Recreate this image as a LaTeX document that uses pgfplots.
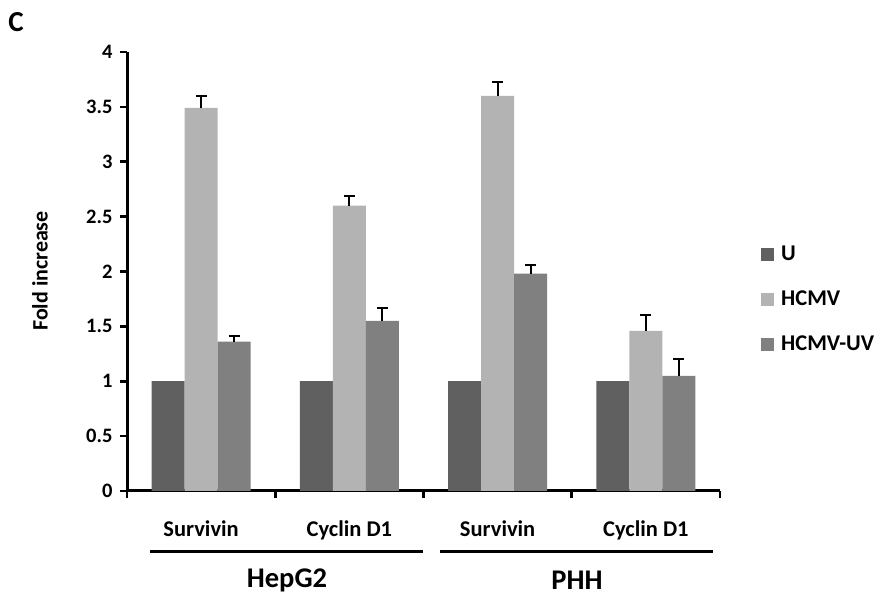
\documentclass[border=0pt]{standalone}
\usepackage{pgfplots}
\pgfplotsset{compat=1.18}
\usepackage{fontspec}
\setmainfont{Carlito}
\definecolor{cU}{HTML}{606060}
\definecolor{cH}{HTML}{B3B3B3}
\definecolor{cUV}{HTML}{808080}
\newcommand{\fs}[1]{\fontsize{#1}{#1}\selectfont}
\begin{document}
\begin{tikzpicture}[x=1pt,y=1pt]
\useasboundingbox (0,0) rectangle (879,597);
\begin{axis}[
  at={(127pt,106pt)}, anchor=south west,
  scale only axis, width=593pt, height=439pt,
  ybar, bar width=33pt,
  xmin=-0.5, xmax=3.5, ymin=0, ymax=4,
  axis x line*=bottom, axis y line*=left,
  axis line style={line width=3pt, -},
  xtick={0,1,2,3},
  xticklabels={Survivin,Cyclin D1,Survivin,Cyclin D1},
  major x tick style={draw=none},
  minor xtick={-0.5,0.5,1.5,2.5,3.5},
  minor x tick style={line width=2.6pt, black},
  minor tick length=7pt,
  ytick={0,0.5,...,4},
  y tick style={line width=2.6pt, black},
  major tick length=7pt,
  tick align=outside,
  /pgf/number format/assume math mode=true,
  yticklabel style={font=\bfseries\fs{20.5}, xshift=-4pt},
  xticklabel style={font=\bfseries\fs{22.5}, yshift=-19pt},
  legend style={draw=none, at={(rel axis cs:1.064,0.437)}, anchor=west,
    font=\bfseries\fs{22.5}, row sep=25pt, fill=none,
    /tikz/every odd column/.append style={column sep=5pt}},
  legend image code/.code={\fill[#1] (0pt,-7pt) rectangle (13pt,6pt);},
  legend cell align=left,
  error bars/y dir=plus, error bars/y explicit,
  error bars/error bar style={line width=2pt, black},
  error bars/error mark options={rotate=90, mark size=5.5pt, line width=2pt, black},
  clip=false,
]
\addplot[fill=cU, draw=none, bar shift=-33pt] coordinates {(0,1) (1,1) (2,1) (3,1)};
\addplot[fill=cH, draw=none, bar shift=0pt] coordinates {
 (0,3.49) +- (0,0.11)
 (1,2.60) +- (0,0.09)
 (2,3.60) +- (0,0.13)
 (3,1.46) +- (0,0.14)};
\addplot[fill=cUV, draw=none, bar shift=33pt] coordinates {
 (0,1.36) +- (0,0.05)
 (1,1.55) +- (0,0.12)
 (2,1.98) +- (0,0.08)
 (3,1.05) +- (0,0.15)};
\legend{U,HCMV,HCMV-UV}
\end{axis}
\node[rotate=90, font=\bfseries\fs{22}] at (40,326) {Fold increase};
\draw[line width=3pt] (150,45) -- (423,45);
\draw[line width=3pt] (440,45) -- (713,45);
\node[font=\bfseries\fs{28.5}] at (287,17) {HepG2};
\node[font=\bfseries\fs{28.5}] at (577,17) {PHH};
\node[font=\bfseries\fs{29}] at (16,575) {C};
\end{tikzpicture}
\end{document}
